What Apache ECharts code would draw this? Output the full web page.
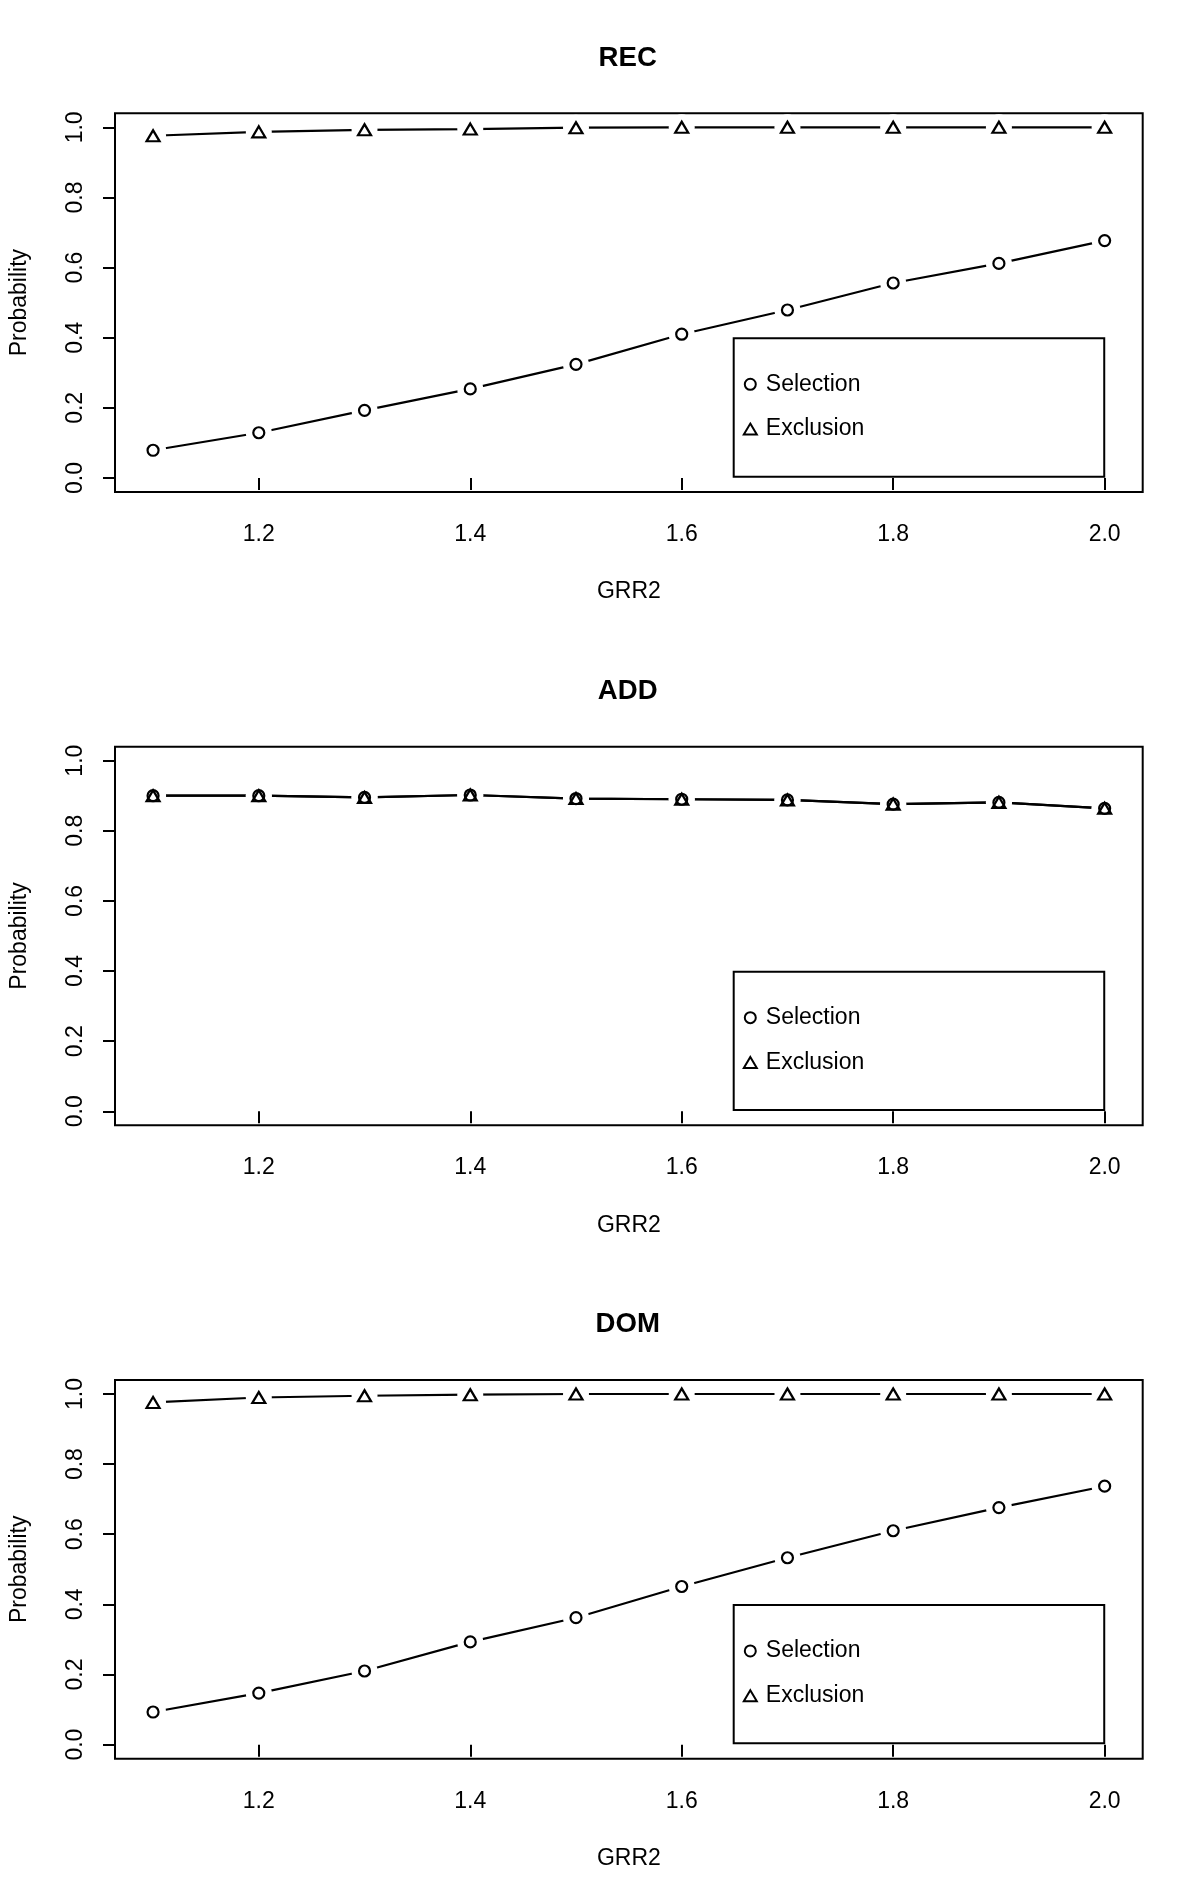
<!DOCTYPE html>
<html>
<head>
<meta charset="utf-8">
<script src="https://cdn.jsdelivr.net/npm/echarts@6/dist/echarts.min.js"></script>
<style>
html,body{margin:0;padding:0;background:#fff;}
#chart{width:1200px;height:1899px;}
</style>
</head>
<body>
<div id="chart"></div>
<script>
// ---- data ----
const grr2 = [1.1, 1.2, 1.3, 1.4, 1.5, 1.6, 1.7, 1.8, 1.9, 2.0];
const panelTitles = ['REC', 'ADD', 'DOM'];
const seriesNames = ['Selection', 'Exclusion'];
const recSelection = [0.079, 0.129, 0.193, 0.254, 0.324, 0.410, 0.479, 0.556, 0.612, 0.677];
const recExclusion = [0.976, 0.987, 0.993, 0.995, 0.999, 1.000, 1.000, 1.000, 1.000, 1.000];
const addSelection = [0.900, 0.900, 0.895, 0.902, 0.892, 0.890, 0.888, 0.876, 0.881, 0.864];
const addExclusion = [0.900, 0.900, 0.895, 0.902, 0.892, 0.890, 0.888, 0.876, 0.881, 0.864];
const domSelection = [0.093, 0.147, 0.210, 0.293, 0.362, 0.451, 0.533, 0.610, 0.676, 0.737];
const domExclusion = [0.976, 0.990, 0.995, 0.998, 1.000, 1.000, 1.000, 1.000, 1.000, 1.000];
const xTickLabels = [1.2, 1.4, 1.6, 1.8, 2.0];
const yTickLabels = [0.0, 0.2, 0.4, 0.6, 0.8, 1.0];
const xAxisTitle = 'GRR2';
const yAxisTitle = 'Probability';

const panelData = [
  [recSelection, recExclusion],
  [addSelection, addExclusion],
  [domSelection, domExclusion]
];

// ---- layout ----
const FONT = '"Liberation Sans", Arial, Helvetica, sans-serif';
const FS = 23;
const panelH = 633.33;
const gridLeft = 112.7, gridWidth = 1030, gridTop0 = 113.3, gridHeight = 378.7;
const xMin = 1.064, xMax = 2.036, yMin = -0.04, yMax = 1.04;
const symbols = ['circle', 'triangle'];
const symbolSizes = [11, [13, 11]];

const grids = [], xAxes = [], yAxes = [], series = [], titles = [], legends = [];

panelTitles.forEach((t, i) => {
  const off = i * panelH;
  grids.push({
    left: gridLeft, top: gridTop0 + off, width: gridWidth, height: gridHeight,
    show: true, borderColor: '#000', borderWidth: 2, backgroundColor: 'transparent'
  });
  xAxes.push({
    gridIndex: i, type: 'value', min: xMin, max: xMax,
    axisLine: { show: false },
    splitLine: { show: false },
    axisTick: { show: true, inside: false, length: 12, customValues: xTickLabels,
      lineStyle: { color: '#000', width: 2 } },
    axisLabel: { show: true, customValues: xTickLabels, margin: 31,
      formatter: v => v.toFixed(1), color: '#000', fontSize: FS, fontFamily: FONT },
    name: xAxisTitle, nameLocation: 'middle', nameGap: 88.5,
    nameTextStyle: { color: '#000', fontSize: FS, fontFamily: FONT }
  });
  yAxes.push({
    gridIndex: i, type: 'value', min: yMin, max: yMax,
    axisLine: { show: false },
    splitLine: { show: false },
    axisTick: { show: true, inside: false, length: 12, customValues: yTickLabels,
      lineStyle: { color: '#000', width: 2 } },
    axisLabel: { show: true, customValues: yTickLabels, margin: 28, rotate: 90,
      formatter: v => v.toFixed(1), color: '#000', fontSize: FS, fontFamily: FONT },
    name: yAxisTitle, nameLocation: 'middle', nameGap: 84, nameRotate: 90,
    nameTextStyle: { color: '#000', fontSize: FS, fontFamily: FONT }
  });
  titles.push({
    text: t, left: gridLeft + gridWidth / 2, textAlign: 'center', top: 44.2 + off, padding: 0,
    textStyle: { color: '#000', fontSize: 27.6, fontWeight: 'bold', fontFamily: FONT }
  });
  legends.push({
    orient: 'vertical', left: 733.7, top: 338.3 + off,
    padding: [34.5, 240, 36.1, 9.1],
    borderColor: '#000', borderWidth: 2, backgroundColor: '#fff',
    itemWidth: 13, itemHeight: 11, itemGap: 21.8,
    selectedMode: false,
    textStyle: { color: '#000', fontSize: FS, fontFamily: FONT, lineHeight: 23, padding: [0, 0, 0, 4] },
    data: seriesNames.map((n, k) => ({
      name: n, icon: symbols[k],
      itemStyle: { color: '#fff', borderColor: '#000', borderWidth: 2 }
    }))
  });
  panelData[i].forEach((vals, k) => {
    const pts = grr2.map((x, j) => [x, vals[j]]);
    series.push({
      type: 'line', name: seriesNames[k], xAxisIndex: i, yAxisIndex: i,
      data: pts, showSymbol: false, symbol: 'none', silent: true, z: 2,
      lineStyle: { color: '#000', width: 2.2 }, animation: false
    });
  });
  panelData[i].forEach((vals, k) => {
    const pts = grr2.map((x, j) => [x, vals[j]]);
    series.push({
      type: 'scatter', name: 'gap' + k, xAxisIndex: i, yAxisIndex: i,
      data: pts, symbol: 'circle', symbolSize: 26, silent: true, z: 3,
      itemStyle: { color: '#fff', opacity: 1 }, animation: false
    });
  });
  panelData[i].forEach((vals, k) => {
    const pts = grr2.map((x, j) => [x, vals[j]]);
    series.push({
      type: 'scatter', name: seriesNames[k], xAxisIndex: i, yAxisIndex: i,
      data: pts, symbol: symbols[k], symbolSize: symbolSizes[k], z: 4,
      itemStyle: { color: 'rgba(255,255,255,0)', borderColor: '#000', borderWidth: 2.2, opacity: 1 },
      animation: false
    });
  });
});

const chart = echarts.init(document.getElementById('chart'), null, { renderer: 'canvas' });
chart.setOption({
  backgroundColor: '#fff',
  animation: false,
  title: titles,
  legend: legends,
  grid: grids,
  xAxis: xAxes,
  yAxis: yAxes,
  series: series
});
</script>
</body>
</html>
